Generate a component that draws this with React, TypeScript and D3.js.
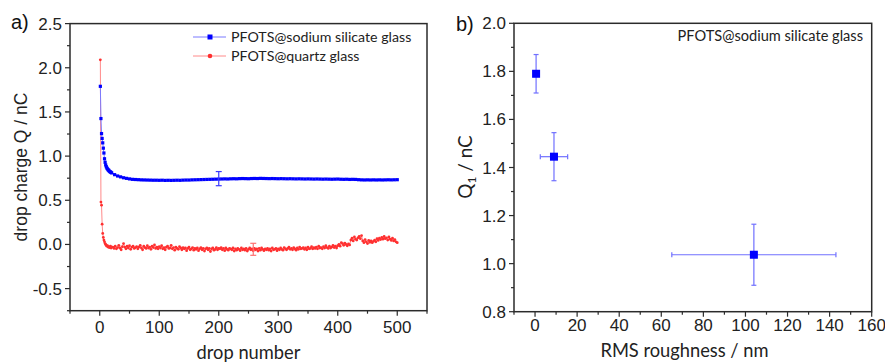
import React from "react";
import * as d3 from "d3";

const W = 885;
const H = 364;
const tickFont = "'Liberation Sans', Arial, sans-serif";
const labelFont = "Lato, 'Open Sans', sans-serif";

// ---- panel a: drop charge vs drop number
const blueDrops = [...d3.range(1, 21), ...d3.range(25, 501, 5)];
const blueCharge = [
  1.79, 1.425, 1.255, 1.2, 1.15, 1.09, 1.035, 0.97, 0.93, 0.9,
  0.88, 0.865, 0.855, 0.845, 0.84, 0.83, 0.825, 0.82, 0.815, 0.81,
  0.79, 0.775, 0.765, 0.755, 0.748, 0.742, 0.737, 0.735, 0.733, 0.731,
  0.73, 0.729, 0.728, 0.727, 0.727, 0.726, 0.727, 0.725, 0.726, 0.725,
  0.726, 0.727, 0.726, 0.728, 0.729, 0.729, 0.731, 0.732, 0.733, 0.734,
  0.735, 0.736, 0.737, 0.738, 0.739, 0.74, 0.741, 0.742, 0.741, 0.743,
  0.744, 0.743, 0.745, 0.746, 0.745, 0.744, 0.746, 0.747, 0.746, 0.748,
  0.747, 0.746, 0.745, 0.746, 0.745, 0.744, 0.745, 0.744, 0.743, 0.744,
  0.743, 0.742, 0.743, 0.742, 0.741, 0.742, 0.741, 0.74, 0.741, 0.74,
  0.739, 0.74, 0.739, 0.738, 0.739, 0.74, 0.738, 0.737, 0.738, 0.736,
  0.737, 0.736, 0.733, 0.731, 0.73, 0.731, 0.73, 0.731, 0.73, 0.731,
  0.73, 0.731, 0.732, 0.731, 0.732, 0.733,
];
const redDrops = [...d3.range(1, 21), ...d3.range(22, 501, 2)];
const redCharge = [
  2.09, 0.48, 0.445, 0.23, 0.125, 0.08, 0.05, 0.03, 0.01, 0.0,
  -0.01, -0.02, -0.015, -0.03, -0.025, -0.035, -0.03, -0.02, -0.04, -0.03,
  -0.03, -0.045, -0.02, -0.05, -0.035, -0.01, -0.04, -0.06, -0.025, 0.01,
  -0.03, -0.05, -0.02, -0.04, -0.015, -0.055, -0.03, -0.02, -0.045, -0.035,
  -0.025, -0.05, -0.03, -0.01, -0.04, -0.06, -0.02, -0.035, -0.045, -0.015,
  -0.04, -0.03, -0.055, -0.02, -0.035, -0.005, -0.045, -0.03, -0.05, -0.025,
  -0.04, -0.015, -0.05, -0.035, -0.06, -0.03, -0.02, -0.045, -0.04, -0.01,
  -0.05, -0.035, -0.065, -0.03, -0.045, -0.055, -0.025, -0.04, -0.06, -0.035,
  -0.05, -0.04, -0.07, -0.045, -0.03, -0.06, -0.05, -0.035, -0.065, -0.045,
  -0.055, -0.04, -0.07, -0.05, -0.035, -0.06, -0.045, -0.075, -0.05, -0.04,
  -0.06, -0.045, -0.08, -0.05, -0.04, -0.065, -0.055, -0.035, -0.06, -0.045,
  -0.05, -0.035, -0.06, -0.045, -0.07, -0.04, -0.055, -0.065, -0.045, -0.05,
  -0.06, -0.04, -0.075, -0.05, -0.065, -0.045, -0.055, -0.07, -0.04, -0.06,
  -0.05, -0.065, -0.045, -0.075, -0.055, -0.04, -0.06, -0.05, -0.07, -0.045,
  -0.06, -0.05, -0.075, -0.045, -0.065, -0.04, -0.055, -0.07, -0.05, -0.06,
  -0.045, -0.065, -0.05, -0.075, -0.04, -0.06, -0.055, -0.045, -0.07, -0.05,
  -0.06, -0.04, -0.055, -0.065, -0.035, -0.05, -0.06, -0.045, -0.03, -0.055,
  -0.045, -0.06, -0.035, -0.05, -0.065, -0.04, -0.055, -0.03, -0.05, -0.045,
  -0.035, -0.055, -0.04, -0.06, -0.03, -0.05, -0.045, -0.025, -0.05, -0.035,
  -0.045, -0.03, -0.05, -0.02, -0.04, -0.035, -0.05, -0.025, -0.04, -0.015,
  -0.035, -0.045, -0.02, -0.04, -0.03, -0.01, -0.035, -0.02, -0.04, -0.015,
  0.0, -0.02, 0.02, 0.01, -0.01, 0.015, 0.0, -0.015, 0.005, -0.005,
  0.05, 0.07, 0.04, 0.085, 0.06, 0.05, 0.075, 0.09, 0.065, 0.1,
  0.04, 0.02, 0.055, 0.03, 0.01, 0.045, 0.025, 0.04, 0.02, 0.035,
  0.05, 0.03, 0.065, 0.045, 0.07, 0.055, 0.08, 0.06, 0.09, 0.065,
  0.075, 0.05, 0.085, 0.06, 0.045, 0.07, 0.04, 0.055, 0.03, 0.02,
];
const blueErr = { drop: 200, q: 0.745, err: 0.08 };
const redErr = { drop: 258, q: -0.055, err: 0.068 };
const legendA = ["PFOTS@sodium silicate glass", "PFOTS@quartz glass"];
const xTicksA = [0, 100, 200, 300, 400, 500];
const xMinorA = [-50, 50, 150, 250, 350, 450, 550];
const yTicksA = [-0.5, 0, 0.5, 1, 1.5, 2, 2.5];
const yMinorA = [-0.75, -0.25, 0.25, 0.75, 1.25, 1.75, 2.25];

// ---- panel b: Q1 vs RMS roughness
const roughness = [0.5, 9, 104];
const roughnessErr = [1, 6.5, 39];
const q1 = [1.79, 1.445, 1.037];
const q1Err = [0.08, 0.1, 0.127];
const xTicksB = [0, 20, 40, 60, 80, 100, 120, 140, 160];
const xMinorB = [-10, 10, 30, 50, 70, 90, 110, 130, 150];
const yTicksB = [0.8, 1.0, 1.2, 1.4, 1.6, 1.8, 2.0];
const yMinorB = [0.9, 1.1, 1.3, 1.5, 1.7, 1.9];

function Axes({ x, y, xTicks, xMinor, yTicks, yMinor, xFmt, yFmt, xLabelY }) {
  const [x0, x1] = x.range();
  const [y0, y1] = y.range();
  const stroke = "#2b2b2b";
  return (
    <g>
      <rect x={x0} y={y1} width={x1 - x0} height={y0 - y1} fill="none" stroke={stroke} strokeWidth={1.5} />
      {xTicks.map((t) => (
        <g key={"xt" + t}>
          <line x1={x(t)} x2={x(t)} y1={y0} y2={y0 + 5} stroke={stroke} strokeWidth={1.2} />
          <text x={x(t)} y={xLabelY} textAnchor="middle" fontFamily={tickFont} fontSize={17} fill="#222">
            {xFmt(t)}
          </text>
        </g>
      ))}
      {xMinor.map((t) => (
        <line key={"xm" + t} x1={x(t)} x2={x(t)} y1={y0} y2={y0 + 3} stroke={stroke} strokeWidth={1.2} />
      ))}
      {yTicks.map((t) => (
        <g key={"yt" + t}>
          <line x1={x0} x2={x0 - 5} y1={y(t)} y2={y(t)} stroke={stroke} strokeWidth={1.2} />
          <text x={x0 - 8} y={y(t) + 6} textAnchor="end" fontFamily={tickFont} fontSize={17} fill="#222">
            {yFmt(t)}
          </text>
        </g>
      ))}
      {yMinor.map((t) => (
        <line key={"ym" + t} x1={x0} x2={x0 - 3} y1={y(t)} y2={y(t)} stroke={stroke} strokeWidth={1.2} />
      ))}
    </g>
  );
}

function ErrY({ cx, top, bottom, cap, color, width = 1.2 }) {
  return (
    <g stroke={color} strokeWidth={width}>
      <line x1={cx} x2={cx} y1={top} y2={bottom} />
      <line x1={cx - cap} x2={cx + cap} y1={top} y2={top} />
      <line x1={cx - cap} x2={cx + cap} y1={bottom} y2={bottom} />
    </g>
  );
}

function ErrX({ cy, left, right, cap, color, width = 1.2 }) {
  return (
    <g stroke={color} strokeWidth={width}>
      <line x1={left} x2={right} y1={cy} y2={cy} />
      <line x1={left} x2={left} y1={cy - cap} y2={cy + cap} />
      <line x1={right} x2={right} y1={cy - cap} y2={cy + cap} />
    </g>
  );
}

export default function App() {
  // panel a scales
  const xA = d3.scaleLinear().domain([-50, 550]).range([70, 427]);
  const yA = d3.scaleLinear().domain([-0.75, 2.5]).range([310.7, 23.6]);
  const lineA = d3.line<number>();
  const bluePts = blueDrops.map((d, i) => [xA(d), yA(blueCharge[i])] as [number, number]);
  const redPts = redDrops.map((d, i) => [xA(d), yA(redCharge[i])] as [number, number]);

  // panel b scales
  const xB = d3.scaleLinear().domain([-10, 160]).range([514, 871.7]);
  const yB = d3.scaleLinear().domain([0.8, 2.0]).range([311.7, 23.3]);

  const fmtA = (v: number) => v.toFixed(1);
  const fmtInt = (v: number) => String(v);

  return (
    <svg width={W} height={H} style={{ position: "absolute", left: 0, top: 0, background: "#fff" }}>
      <rect width={W} height={H} fill="#fff" />

      {/* ---- panel a ---- */}
      <text x={11} y={29} fontFamily={tickFont} fontSize={20} fill="#111">a)</text>
      <path d={lineA(redPts) || ""} fill="none" stroke="#ff8a8a" strokeWidth={1} />
      {redPts.map((p, i) => (
        <circle key={"r" + i} cx={p[0]} cy={p[1]} r={1.4} fill="#ff3030" />
      ))}
      <path d={lineA(bluePts) || ""} fill="none" stroke="#7a7aff" strokeWidth={1} />
      {bluePts.map((p, i) => (
        <rect key={"b" + i} x={p[0] - 1.6} y={p[1] - 1.6} width={3.2} height={3.2} fill="#0000ff" />
      ))}
      <ErrY cx={xA(blueErr.drop)} top={yA(blueErr.q + blueErr.err)} bottom={yA(blueErr.q - blueErr.err)} cap={3} color="#3a3aff" />
      <ErrY cx={xA(redErr.drop)} top={yA(redErr.q + redErr.err)} bottom={yA(redErr.q - redErr.err)} cap={3} color="#ff7070" />
      <Axes x={xA} y={yA} xTicks={xTicksA} xMinor={xMinorA} yTicks={yTicksA} yMinor={yMinorA}
        xFmt={fmtInt} yFmt={fmtA} xLabelY={333} />

      {/* legend a */}
      <g>
        <line x1={193} x2={226} y1={37} y2={37} stroke="#7a7aff" strokeWidth={1} />
        <rect x={207.5} y={34.5} width={5} height={5} fill="#0000ff" />
        <text x={231} y={42} fontFamily={labelFont} fontSize={14.2} fill="#222">{legendA[0]}</text>
        <line x1={193} x2={226} y1={56} y2={56} stroke="#ff8a8a" strokeWidth={1} />
        <circle cx={210} cy={56} r={2.3} fill="#ff3030" />
        <text x={231} y={61} fontFamily={labelFont} fontSize={14.2} fill="#222">{legendA[1]}</text>
      </g>

      <text x={248.5} y={359} textAnchor="middle" fontFamily={labelFont} fontSize={18.3} fill="#222">drop number</text>
      <text transform="translate(27,167) rotate(-90)" textAnchor="middle" fontFamily={tickFont} fontSize={17.5} fill="#222">
        drop charge Q / nC
      </text>

      {/* ---- panel b ---- */}
      <text x={456} y={31} fontFamily={tickFont} fontSize={20} fill="#111">b)</text>
      {roughness.map((r, i) => (
        <g key={"e" + i}>
          {roughnessErr[i] > 2 && (
            <ErrX cy={yB(q1[i])} left={xB(r - roughnessErr[i])} right={xB(r + roughnessErr[i])} cap={2.5} color="#7070ff" />
          )}
          <ErrY cx={xB(r)} top={yB(q1[i] + q1Err[i])} bottom={yB(q1[i] - q1Err[i])} cap={2.5} color="#7070ff" />
        </g>
      ))}
      {roughness.map((r, i) => (
        <rect key={"q" + i} x={xB(r) - 4} y={yB(q1[i]) - 4} width={8} height={8} fill="#0000ff" />
      ))}
      <Axes x={xB} y={yB} xTicks={xTicksB} xMinor={xMinorB} yTicks={yTicksB} yMinor={yMinorB}
        xFmt={fmtInt} yFmt={fmtA} xLabelY={331} />
      <text x={863} y={41} textAnchor="end" fontFamily={labelFont} fontSize={14.6} fill="#222">
        PFOTS@sodium silicate glass
      </text>
      <text x={684.5} y={357} textAnchor="middle" fontFamily={labelFont} fontSize={18.3} fill="#222">
        RMS roughness / nm
      </text>
      <text transform="translate(472,167) rotate(-90)" textAnchor="middle" fontFamily={labelFont} fontSize={19} fill="#222">
        Q<tspan fontSize={12} dy={4}>1</tspan><tspan dy={-4}> / nC</tspan>
      </text>
    </svg>
  );
}
